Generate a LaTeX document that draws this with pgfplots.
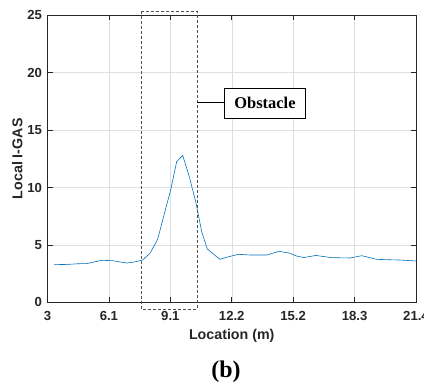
\documentclass[border=0pt]{standalone}
\usepackage{pgfplots}
\pgfplotsset{compat=1.18}
\usepackage{fontspec}
\setmainfont{Liberation Sans}
\newfontfamily\timesfont{Liberation Serif}
\definecolor{mblue}{RGB}{0,114,189}
\definecolor{mtext}{RGB}{38,38,38}
\definecolor{mgrid}{RGB}{223,223,223}
\definecolor{mdash}{RGB}{80,80,80}
\begin{document}
\begin{tikzpicture}
\begin{axis}[
  name=ax,
  scale only axis,
  width=368.5bp, height=287bp,
  xmin=3, xmax=21.4, ymin=0, ymax=25,
  xtick={3,6.0667,9.1333,12.2,15.2667,18.3333,21.4},
  xticklabels={3,6.1,9.1,12.2,15.2,18.3,21.4},
  ytick={0,5,10,15,20,25},
  grid=major,
  major grid style={mgrid, line width=0.5pt},
  axis line style={mtext, line width=0.6pt},
  major tick length=5bp,
  tick style={mtext, line width=0.6pt},
  tick align=inside,
  /pgf/number format/assume math mode=true,
  ticklabel style={font=\fontsize{13.2}{15}\selectfont\bfseries, text=mtext},
  xticklabel style={yshift=-5.6bp},
  yticklabel style={xshift=-2bp},
  xlabel={Location (m)},
  ylabel={Local I-GAS},
  label style={font=\fontsize{14.3}{16}\selectfont\bfseries, text=mtext},
  xlabel style={at={(axis description cs:0.5,-0.117)}, anchor=center},
  ylabel style={at={(axis description cs:-0.082,0.5)}, anchor=center},
  clip=false,
]
\addplot[mblue, line width=0.6pt] coordinates {
(3.32,3.28) (4.0,3.30) (4.54,3.36) (4.96,3.37) (5.3,3.5) (5.71,3.66)
(6.29,3.62) (6.95,3.42) (7.3,3.5) (7.75,3.68) (8.12,4.27) (8.50,5.49)
(8.87,7.95) (9.15,9.78) (9.45,12.25) (9.75,12.8) (10.08,10.94) (10.40,8.76)
(10.70,6.15) (10.98,4.64) (11.61,3.74) (12.0,3.95) (12.53,4.18) (13.11,4.12)
(13.94,4.12) (14.57,4.44) (15.11,4.27) (15.44,4.03) (15.8,3.9) (16.4,4.08)
(17.19,3.89) (18.10,3.86) (18.69,4.06) (19.44,3.74) (20.61,3.68) (21.4,3.6)
};
\draw[mdash, line width=0.8pt, dash pattern=on 3bp off 2bp] (axis cs:7.70,25.37) rectangle (axis cs:10.46,-0.61);
\draw[black, line width=0.7pt] (axis cs:10.46,17.42) -- (axis cs:12.31,17.42);
\node[draw=black, line width=0.8pt, fill=white, minimum width=81.4bp, minimum height=30bp, inner sep=0pt,
  font=\timesfont\bfseries\fontsize{16.5}{19}\selectfont] at (axis cs:13.86,17.33) {Obstacle};
\end{axis}
\node[anchor=base, font=\timesfont\bfseries\fontsize{24}{28}\selectfont] at ([shift={(178.5bp,-74.7bp)}]ax.south west) {(b)};
\pgfresetboundingbox
\path[use as bounding box] ([shift={(-47.5bp,-81.7bp)}]ax.south west) rectangle ([shift={(8bp,15.3bp)}]ax.north east);
\end{tikzpicture}
\end{document}
